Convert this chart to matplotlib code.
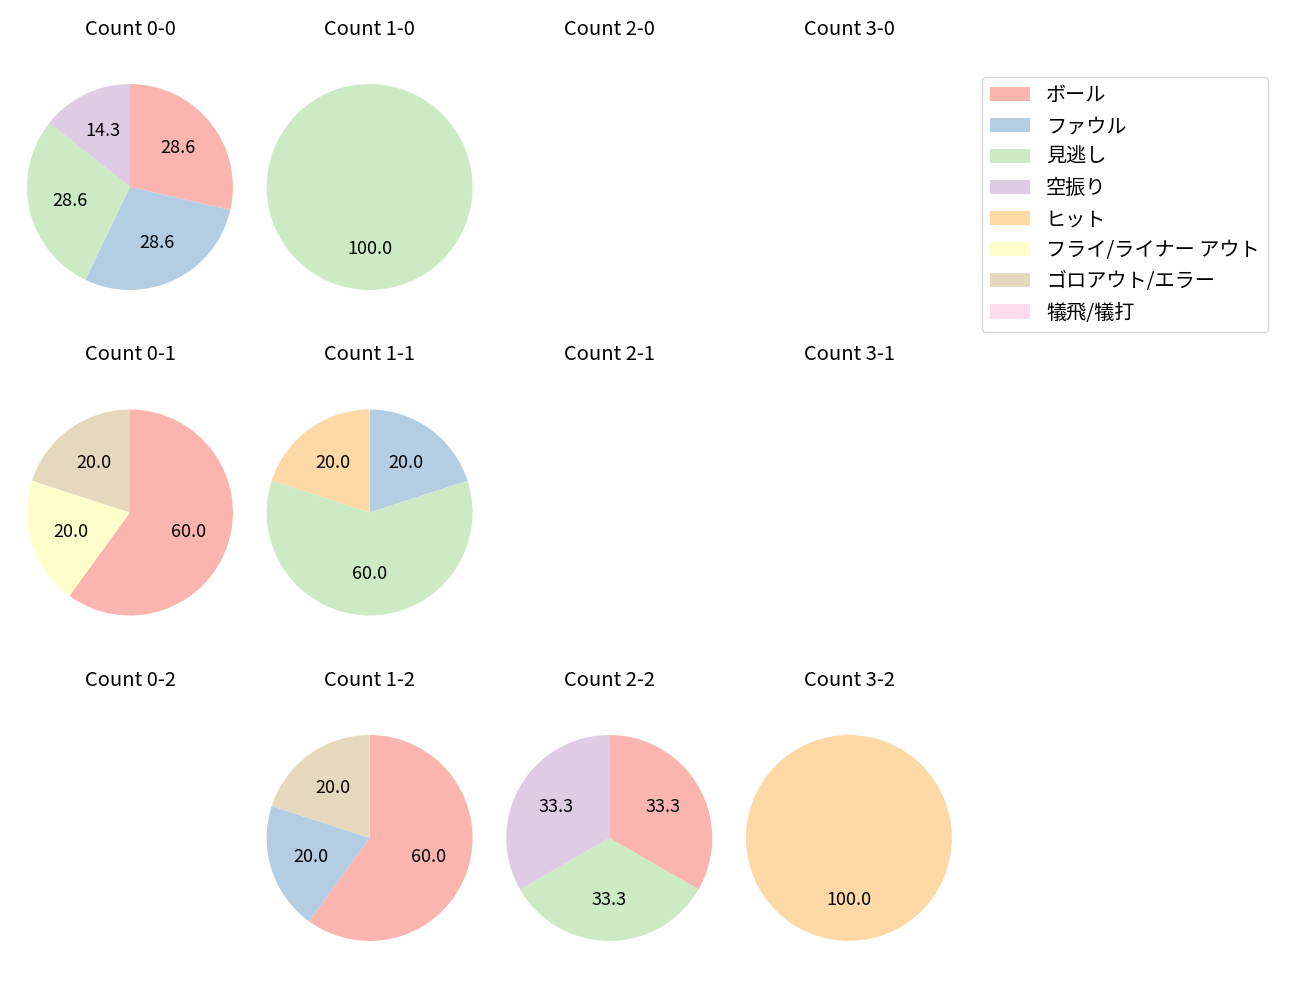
import matplotlib.pyplot as plt
from matplotlib.patches import Patch
import numpy as np

plt.rcParams['font.family'] = ['Noto Sans CJK JP', 'DejaVu Sans']

categories = ['ボール', 'ファウル', '見逃し', '空振り', 'ヒット',
              'フライ/ライナー アウト', 'ゴロアウト/エラー', '犠飛/犠打']
colors = plt.cm.Pastel1(np.arange(8))

# pitch result counts per ball-strike count (same order as categories)
count_00 = [2, 2, 2, 1, 0, 0, 0, 0]
count_10 = [0, 0, 1, 0, 0, 0, 0, 0]
count_20 = []
count_30 = []
count_01 = [3, 0, 0, 0, 0, 1, 1, 0]
count_11 = [0, 1, 3, 0, 1, 0, 0, 0]
count_21 = []
count_31 = []
count_02 = []
count_12 = [3, 1, 0, 0, 0, 0, 1, 0]
count_22 = [1, 0, 1, 1, 0, 0, 0, 0]
count_32 = [0, 0, 0, 0, 1, 0, 0, 0]

grid = [
    [('0-0', count_00), ('1-0', count_10), ('2-0', count_20), ('3-0', count_30)],
    [('0-1', count_01), ('1-1', count_11), ('2-1', count_21), ('3-1', count_31)],
    [('0-2', count_02), ('1-2', count_12), ('2-2', count_22), ('3-2', count_32)],
]

fig, axes = plt.subplots(3, 4, figsize=(13, 10), dpi=100)
fig.subplots_adjust(left=0.0092, right=0.7438, top=0.957, bottom=0.018,
                    wspace=0.0155, hspace=0.130)

xr = 1.146
yr = xr * 288 / 236

for r in range(3):
    for c in range(4):
        ax = axes[r][c]
        name, vals = grid[r][c]
        ax.set_title('Count ' + name, fontsize=14.5)
        if sum(vals) > 0:
            idx = [i for i, v in enumerate(vals) if v > 0]
            ax.pie([vals[i] for i in idx], colors=[colors[i] for i in idx],
                   autopct='%.1f', startangle=90, counterclock=False,
                   textprops={'fontsize': 13})
            ax.set_aspect('auto')
            ax.set_xlim(-xr, xr)
            ax.set_ylim(-yr, yr)
        ax.axis('off')

handles = [Patch(facecolor=colors[i], label=categories[i]) for i in range(8)]
fig.legend(handles=handles, loc='upper left', bbox_to_anchor=(0.755, 0.923),
           borderaxespad=0, fontsize=14.5)

fig.savefig('out.png')
